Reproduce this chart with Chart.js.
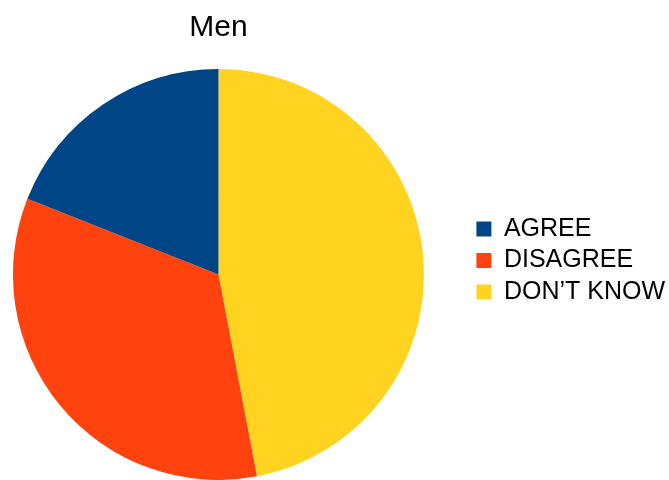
<!DOCTYPE html>
<html>
<head>
<meta charset="utf-8">
<title>Men</title>
<script src="https://cdn.jsdelivr.net/npm/chart.js@4.4.1/dist/chart.umd.min.js"></script>
<style>
    html, body { margin: 0; padding: 0; background: #fff; }
    #wrap { width: 669px; height: 480px; position: relative; }
</style>
</head>
<body>
<div id="wrap"><canvas id="menPie"></canvas></div>
<script>
// Dữ liệu (phần trăm)
const categories = ['AGREE', 'DISAGREE', 'DON\u2019T KNOW'];
const shares = [19, 34, 47];
const colors = ['#004586', '#ff420e', '#ffd320'];

// LibreOffice vẽ ngược chiều kim đồng hồ, Chart.js vẽ theo chiều kim đồng hồ
// => đảo thứ tự dữ liệu và đảo lại legend
const labels = categories.slice().reverse();
const data = shares.slice().reverse();
const bg = colors.slice().reverse();

Chart.defaults.font.family = "'Liberation Sans', Arial, sans-serif";
Chart.defaults.color = '#000';

// Khoảng trống giữa hình tròn và legend
// (display: false để không chia đôi chiều rộng tối đa của legend)
const legendGap = {
    id: 'legendGap',
    beforeInit(chart) {
        Chart.layouts.addBox(chart, {
            position: 'right',
            weight: 0,
            fullSize: false,
            options: { display: false },
            isHorizontal() { return false; },
            getPadding() { return { left: 0, right: 0, top: 0, bottom: 0 }; },
            update(maxWidth, maxHeight) {
                this.width = 33;
                this.height = maxHeight;
            },
            draw() {}
        });
    }
};

const menPieCanvas = document.getElementById('menPie');
if (menPieCanvas) {
    const ctx = menPieCanvas.getContext('2d');
    new Chart(ctx, {
        type: 'pie',
        data: {
            labels: labels,
            datasets: [{
                data: data,
                backgroundColor: bg,
                borderWidth: 0,
                clip: false
            }]
        },
        options: {
            responsive: true,
            maintainAspectRatio: false,
            animation: false,
            layout: {
                padding: { top: 41, bottom: 0, left: 0, right: -6 }
            },
            plugins: {
                title: {
                    display: true,
                    text: 'Men',
                    fullSize: false,
                    color: '#000',
                    font: { size: 30, weight: 'normal' },
                    padding: { top: -31, bottom: 23 }
                },
                legend: {
                    position: 'right',
                    reverse: true,
                    labels: {
                        boxWidth: 15,
                        boxHeight: 15,
                        padding: 6.5,
                        color: '#000',
                        font: { size: 25 }
                    }
                },
                tooltip: { enabled: false }
            }
        },
        plugins: [legendGap]
    });
}
</script>
</body>
</html>
